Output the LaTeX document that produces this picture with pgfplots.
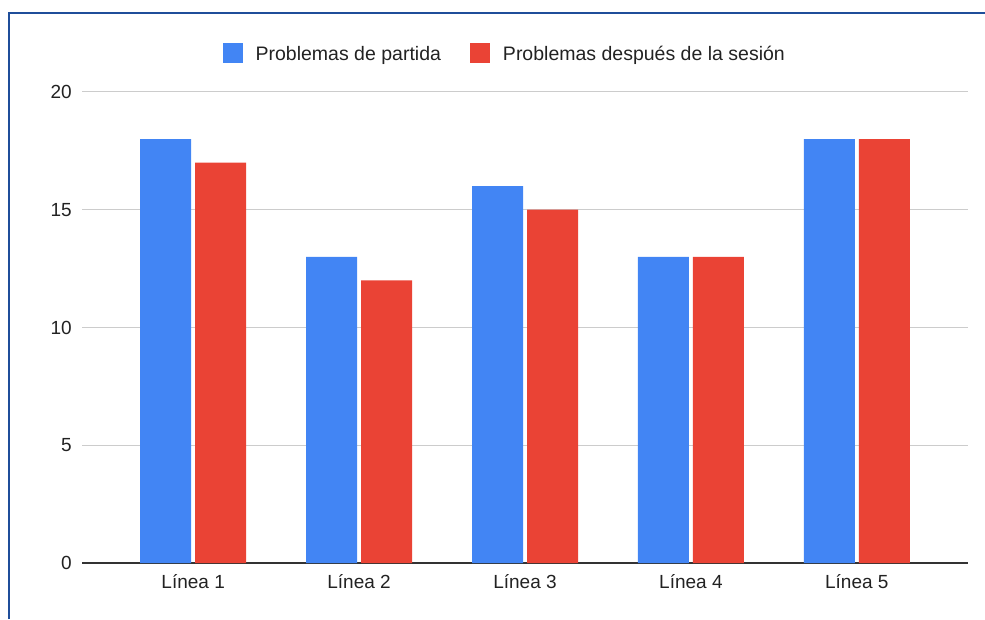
\documentclass[border=0pt]{standalone}
\usepackage{pgfplots}
\pgfplotsset{compat=1.18}
\usepackage{fontspec}
\setmainfont{Liberation Sans}
\definecolor{gblue}{HTML}{4285F4}
\definecolor{gred}{HTML}{EA4335}
\definecolor{frameblue}{HTML}{1F4E9A}
\definecolor{gridgray}{HTML}{CCCCCC}
\definecolor{axisgray}{HTML}{333333}
\definecolor{txt}{HTML}{222222}
\begin{document}
\begin{tikzpicture}[x=1pt,y=1pt]
\path[use as bounding box] (0,0) rectangle (985,619);
\draw[frameblue, line width=2pt] (9,0) -- (9,606) -- (985,606);
\begin{axis}[
  at={(82pt,56pt)}, anchor=south west,
  scale only axis, width=886pt, height=471pt,
  ymin=0, ymax=20, xmin=-0.67, xmax=4.67,
  ybar=4pt, bar width=51pt,
  xtick={0,1,2,3,4},
  xticklabels={Línea 1,Línea 2,Línea 3,Línea 4,Línea 5},
  ytick={0,5,10,15,20},
  /pgf/number format/assume math mode=true,
  ymajorgrids,
  grid style={draw=gridgray, line width=1pt},
  axis x line*=bottom, axis y line*=left,
  y axis line style={draw=none},
  x axis line style={-, draw=axisgray, line width=1.3pt},
  major tick length=0pt,
  tick style={draw=none},
  tick label style={font=\fontsize{19}{23}\selectfont, text=txt},
  yticklabel style={anchor=east, inner sep=0pt, xshift=-10pt},
  xticklabel style={anchor=base, inner sep=0pt, yshift=-25pt},
  legend columns=2,
  legend style={at={(0.476,1.083)}, anchor=center, draw=none, fill=none,
    font=\fontsize{19.5}{23}\selectfont, text=txt,
    nodes={inner sep=0pt},
    /tikz/every odd column/.append style={column sep=13pt},
    /tikz/every even column/.append style={column sep=29pt}},
  legend image code/.code={\fill[#1, draw=none] (0pt,-9pt) rectangle (20pt,11pt);},
]
\addplot[fill=gblue, draw=none] coordinates {(0,18) (1,13) (2,16) (3,13) (4,18)};
\addplot[fill=gred, draw=none] coordinates {(0,17) (1,12) (2,15) (3,13) (4,18)};
\legend{Problemas de partida, Problemas después de la sesión}
\end{axis}
\end{tikzpicture}
\end{document}
